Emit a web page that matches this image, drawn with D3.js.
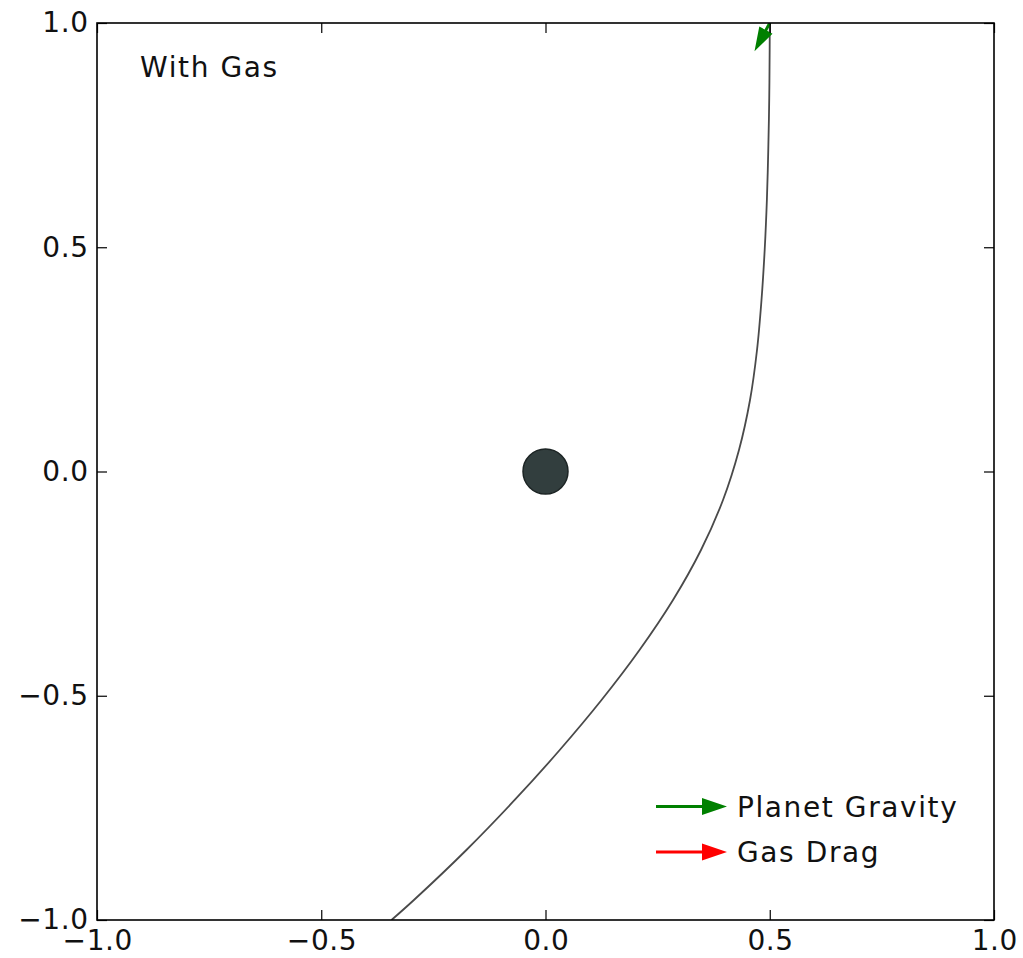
<!DOCTYPE html>
<html>
<head>
<meta charset="utf-8">
<script src="https://cdn.jsdelivr.net/npm/d3@7"></script>
<style>
  html, body { margin: 0; padding: 0; background: #fff; }
  svg { display: block; font-family: "DejaVu Sans", sans-serif; }
</style>
</head>
<body>
<svg id="chart" width="1023" height="958"></svg>
<script>
// ---- data ----
const trajX = [-0.3434, -0.2934, -0.1764, -0.0687, 0.0317, 0.1249, 0.2096, 0.2843, 0.3467, 0.3958,
               0.4314, 0.4560, 0.4716, 0.4816, 0.4887, 0.4936, 0.4967, 0.4988, 0.4998, 0.5000];
const trajY = [-1.0000, -0.9554, -0.8439, -0.7324, -0.6210, -0.5095, -0.3980, -0.2865, -0.1750, -0.0635,
               0.0479, 0.1594, 0.2709, 0.3824, 0.4939, 0.6054, 0.7168, 0.8283, 0.9398, 1.0000];
const planetX = [0.0];
const planetY = [0.0];
const gravityArrow = { x: [0.5], y: [1.0], u: [-0.034], v: [-0.063] };
const xTicks = [-1.0, -0.5, 0.0, 0.5, 1.0];
const yTicks = [-1.0, -0.5, 0.0, 0.5, 1.0];
const panelLabel = "With Gas";
const legendLabels = ["Planet Gravity", "Gas Drag"];
const legendColors = ["#008000", "#ff0000"];

// ---- layout ----
const svg = d3.select("#chart");
const m = { left: 97, top: 23, width: 897, height: 897 };
const x = d3.scaleLinear().domain([-1, 1]).range([m.left, m.left + m.width]);
const y = d3.scaleLinear().domain([-1, 1]).range([m.top + m.height, m.top]);
const fmt = d3.format(".1f");
const FS = 28;
const TICK_LS = 0.6;
const TEXT_LS = 1.6;

svg.append("defs").append("clipPath").attr("id", "clip")
  .append("rect").attr("x", m.left).attr("y", m.top).attr("width", m.width).attr("height", m.height);

// trajectory
const line = d3.line().x((d, i) => x(trajX[i])).y((d, i) => y(trajY[i])).curve(d3.curveCatmullRom.alpha(0.5));
svg.append("path").datum(trajX).attr("d", line)
  .attr("fill", "none").attr("stroke", "#4a4a4a").attr("stroke-width", 1.8)
  .attr("clip-path", "url(#clip)");

// planet
svg.selectAll("circle.planet").data(planetX).join("circle")
  .attr("class", "planet")
  .attr("cx", (d, i) => x(d)).attr("cy", (d, i) => y(planetY[i]))
  .attr("r", 22.5).attr("fill", "#323e3e").attr("stroke", "#1c2424").attr("stroke-width", 1.5);

// arrow polygon helper
function arrowPoly(x0, y0, x1, y1, shaftW, headL, headW) {
  const dx = x1 - x0, dy = y1 - y0, L = Math.hypot(dx, dy);
  const ux = dx / L, uy = dy / L, px = -uy, py = ux;
  const bx = x1 - ux * headL, by = y1 - uy * headL;
  const pts = [
    [x0 + px * shaftW / 2, y0 + py * shaftW / 2],
    [bx + px * shaftW / 2, by + py * shaftW / 2],
    [bx + px * headW / 2, by + py * headW / 2],
    [x1, y1],
    [bx - px * headW / 2, by - py * headW / 2],
    [bx - px * shaftW / 2, by - py * shaftW / 2],
    [x0 - px * shaftW / 2, y0 - py * shaftW / 2]
  ];
  return pts.map(p => p.join(",")).join(" ");
}

// gravity quiver arrow
svg.selectAll("polygon.quiver").data(gravityArrow.x).join("polygon")
  .attr("class", "quiver")
  .attr("points", (d, i) => arrowPoly(x(d), y(gravityArrow.y[i]),
      x(d + gravityArrow.u[i]), y(gravityArrow.y[i] + gravityArrow.v[i]), 3, 24, 15))
  .attr("fill", "#008000").attr("clip-path", "url(#clip)");

// axes (ticks inward, all four sides)
const axL = d3.axisLeft(y).tickValues(yTicks).tickFormat(fmt).tickSize(-10).tickPadding(9 - TICK_LS);
const axB = d3.axisBottom(x).tickValues(xTicks).tickFormat(fmt).tickSize(-10).tickPadding(9);
const axR = d3.axisRight(y).tickValues(yTicks).tickFormat("").tickSize(-10);
const axT = d3.axisTop(x).tickValues(xTicks).tickFormat("").tickSize(-10);

function styleAxis(g) {
  g.select(".domain").remove();
  g.selectAll(".tick line").attr("stroke", "#000").attr("stroke-width", 1.2);
  g.selectAll(".tick text").attr("fill", "#111").style("font-size", FS + "px")
    .style("letter-spacing", TICK_LS + "px")
    .style("font-family", "'DejaVu Sans', sans-serif");
}
svg.append("g").attr("transform", `translate(${m.left},0)`).call(axL).call(styleAxis);
svg.append("g").attr("transform", `translate(0,${m.top + m.height})`).call(axB).call(styleAxis)
  .selectAll(".tick text").attr("dy", "0.76em").attr("dx", TICK_LS / 2);
svg.append("g").attr("transform", `translate(${m.left + m.width},0)`).call(axR).call(styleAxis);
svg.append("g").attr("transform", `translate(0,${m.top})`).call(axT).call(styleAxis);

// frame
svg.append("rect").attr("x", m.left).attr("y", m.top).attr("width", m.width).attr("height", m.height)
  .attr("fill", "none").attr("stroke", "#000").attr("stroke-width", 1.6);

// panel label
svg.append("text").attr("x", 140).attr("y", 77).text(panelLabel)
  .attr("fill", "#111").style("font-size", FS + "px").style("letter-spacing", TEXT_LS + "px");

// legend
const leg = svg.append("g").selectAll("g").data(legendLabels).join("g")
  .attr("transform", (d, i) => `translate(0,${806.5 + i * 45.5})`);
leg.append("polygon")
  .attr("points", arrowPoly(656, 0, 727, 0, 3, 25, 17))
  .attr("fill", (d, i) => legendColors[i]);
leg.append("text").attr("x", 737).attr("y", 0).attr("dy", "0.36em").text(d => d)
  .attr("fill", "#111").style("font-size", FS + "px").style("letter-spacing", TEXT_LS + "px");
</script>
</body>
</html>
